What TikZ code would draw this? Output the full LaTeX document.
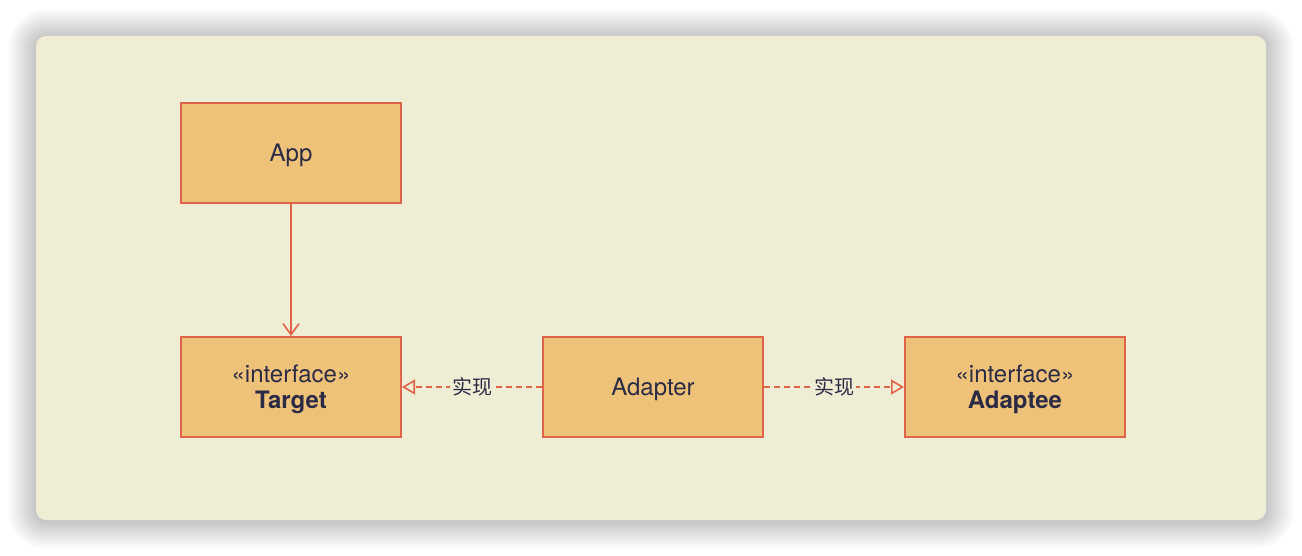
\documentclass[tikz,border=0pt]{standalone}
\usepackage{fontspec}
\setmainfont{TeX Gyre Heros}
\newfontfamily\cjk{Noto Sans CJK SC}
\usetikzlibrary{arrows.meta}
\definecolor{cardbg}{HTML}{F0EDD5}
\definecolor{boxfill}{HTML}{EFC27A}
\definecolor{boxline}{HTML}{E0644A}
\definecolor{txt}{HTML}{2B2B45}
\tikzset{
  cls/.style={draw=boxline, line width=2pt, fill=boxfill, minimum width=220pt, minimum height=100pt, inner sep=0pt},
  clstext/.style={align=center, text=txt, inner sep=0pt, font=\fontsize{24}{29}\selectfont},
  assoc/.style={draw=boxline, line width=1.6pt, -{Straight Barb[length=11pt,width=16pt,line width=1.6pt]}},
  realize/.style={draw=boxline, line width=1.6pt, dash pattern=on 6pt off 4pt, -{Triangle[open,length=13pt,width=15pt,line width=1.6pt]}},
  lbl/.style={fill=cardbg, text=txt, inner sep=2pt, font=\cjk\fontsize{20}{24}\selectfont}
}
\begin{document}
\begin{tikzpicture}[x=1pt,y=-1pt]
\fill[white] (0,0) rectangle (1302,556);
\useasboundingbox (0,0) rectangle (1302,556);
\foreach \i in {1,...,28} {
  \fill[black, opacity=0.009, rounded corners={10pt+\i pt}] ({36-\i},{36-\i+1}) rectangle ({1266+\i},{520+\i+1});
}
\fill[cardbg, rounded corners=10pt] (36,36) rectangle (1266,520);
\node[cls] (app) at (291,153) {};
\node[cls] (target) at (291,387) {};
\node[cls] (adapter) at (653,387) {};
\node[cls] (adaptee) at (1015,387) {};
\node[clstext] (tapp) at (291,155) {App};
\node[clstext] (ttarget) at (291,389) {«interface»\\[-3pt]\textbf{Target}};
\node[clstext] (tadapter) at (653,389) {Adapter};
\node[clstext] (tadaptee) at (1015,389) {«interface»\\[-3pt]\textbf{Adaptee}};
\draw[assoc] (app.south) -- (target.north);
\draw[realize] (adapter.west) -- node[lbl] {实现} (target.east);
\draw[realize] (adapter.east) -- node[lbl] {实现} (adaptee.west);
\end{tikzpicture}
\end{document}
